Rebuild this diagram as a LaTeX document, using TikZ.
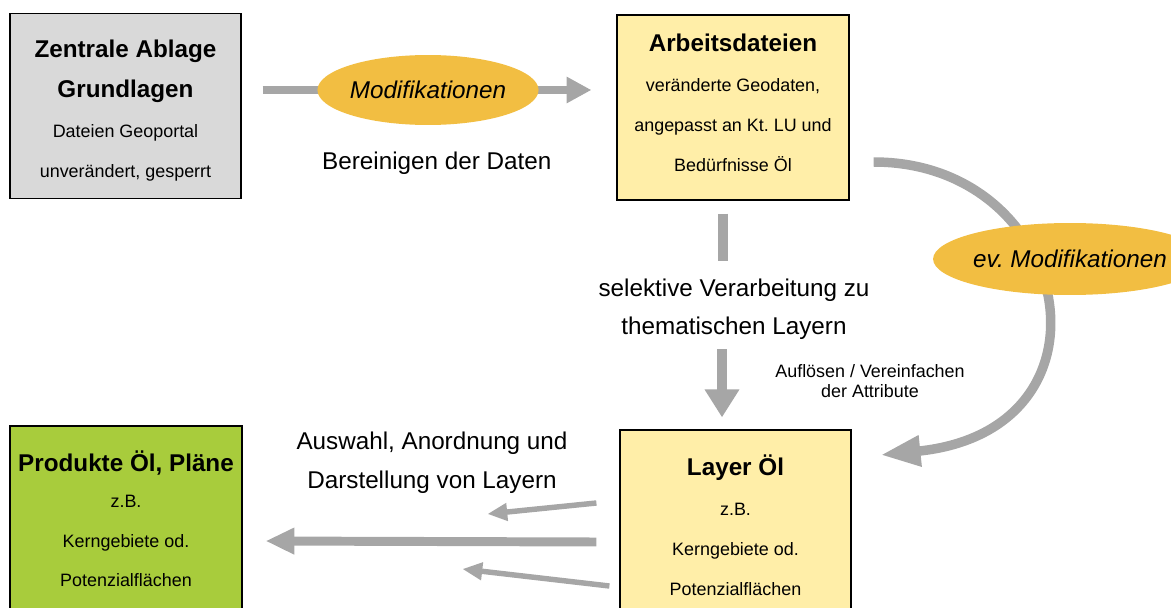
\documentclass[tikz,border=0pt]{standalone}
\usepackage{fontspec}
\setmainfont{Liberation Sans}
\usetikzlibrary{arrows.meta, shapes, positioning, calc}
\frenchspacing
\definecolor{grauBox}{RGB}{217,217,217}
\definecolor{gelbBox}{RGB}{255,238,168}
\definecolor{gruenBox}{RGB}{168,204,60}
\definecolor{ovalGelb}{RGB}{242,190,66}
\definecolor{pfeilGrau}{RGB}{166,166,166}
\tikzset{rect/.style = {
  rectangle,
  draw=black, line width=0.7pt,
  text centered, align=center,
  inner sep=0pt,
  font=\fontsize{10.2}{22.7}\selectfont
  }}
\tikzset{grundlage/.style = {
  % Rectangle:
  rect,
  fill=grauBox
  }}
\tikzset{arbeit/.style = {
  % Rectangle:
  rect,
  fill=gelbBox
  }}
\tikzset{produkt/.style = {
  % Rectangle:
  rect,
  fill=gruenBox
  }}
\tikzset{oval/.style = {
  ellipse,
  fill=ovalGelb,
  inner sep=0pt,
  minimum width=4cm, minimum height=1.4cm,
  font=\fontsize{13.8}{16}\selectfont\itshape
  }}
\tikzset{label/.style = {
  align=center,
  font=\fontsize{13.8}{21.5}\selectfont
  }}
\tikzset{arrow/.style = {
  -{Triangle[length=14.2pt, width=14.2pt]},
  draw=pfeilGrau,
  line width=4.5pt
  }}
\tikzset{thinarrow/.style = {
  -{Triangle[length=11.3pt, width=9.6pt]},
  draw=pfeilGrau,
  line width=3.1pt
  }}
\newcommand{\titel}[1]{{\fontsize{13.8}{22.7}\selectfont\bfseries #1}}
\newcommand{\tief}[1]{\rule[-#1]{0pt}{0pt}}

\begin{document}
\begin{tikzpicture}[x=0.02cm, y=-0.02cm]
% LAYERS
\pgfdeclarelayer{bg}
\pgfsetlayers{bg,main}
\useasboundingbox (0,0) rectangle (1171,608);
\clip (0,0) rectangle (1171,608);

% NODES
\node (zentrale) [grundlage, minimum width=4.62cm, minimum height=3.7cm] at (125.5,106)
  {\rule{0pt}{15pt}\titel{Zentrale Ablage}\\\titel{Grundlagen}\\Dateien Geoportal\\unverändert, gesperrt};
\node (dateien) [arbeit, minimum width=4.64cm, minimum height=3.7cm] at (733,107.5)
  {\titel{Arbeitsdateien}\\veränderte Geodaten,\\angepasst an Kt. LU und\\Bedürfnisse Öl\tief{5.6pt}};
\node (layer) [arbeit, minimum width=4.62cm, minimum height=3.92cm] at (735.5,528)
  {\titel{Layer Öl}\\z.B.\\Kerngebiete od.\\Potenzialflächen\tief{3.4pt}};
\node (produkte) [produkt, minimum width=4.64cm, minimum height=3.84cm] at (126,522)
  {\titel{Produkte Öl, Pläne}\\[-2.5pt]z.B.\\Kerngebiete od.\\Potenzialflächen\tief{3.4pt}};

\node (modif) [oval] at (428,90) {Modifikationen};
\node (bereinigen) [label, below=0.41cm of modif, xshift=5] {Bereinigen der Daten};
\node (evmodif) [oval, minimum width=4.08cm, minimum height=1.44cm] at (1070,259) {ev. Modifikationen};

\node (selektiv) [label] at (734,309) {selektive Verarbeitung zu\\thematischen Layern};
\node (aufloesen) [align=center, font=\fontsize{10.2}{11.3}\selectfont] at (870,381)
  {Auflösen / Vereinfachen\\der Attribute};
\node (auswahl) [label, font=\fontsize{13.8}{22.1}\selectfont] at (432,462.5)
  {Auswahl, Anordnung und\\Darstellung von Layern};

% arrows
\begin{pgfonlayer}{bg}
\draw [arrow, shorten <=11.9pt, shorten >=14.2pt] (zentrale.east |- modif) -- (dateien.west |- modif);
\end{pgfonlayer}

\draw [draw=pfeilGrau, line width=5.7pt] ([shift={(-10,13)}]dateien.south) -- ([shift={(-10,60)}]dateien.south);
\draw [arrow, line width=5.7pt, -{Triangle[length=15.9pt, width=18.7pt]}]
  ([shift={(-13.5,-80)}]layer.north) -- ([shift={(-13.5,-12)}]layer.north);

\begin{pgfonlayer}{bg}
\draw [arrow, line width=5.4pt, -{Triangle[length=22.7pt, width=16.5pt]}]
  ([shift={(24,54.5)}]dateien.east) .. controls +(200,0) and +(245,-25) .. ([shift={(29,-73)}]layer.east);
\end{pgfonlayer}

\draw [thinarrow] ([shift={(-23,-25)}]layer.west) -- ([shift={(-132,-14)}]layer.west);
\draw [arrow, line width=5.1pt, -{Triangle[length=16.4pt, width=14.2pt]}]
  ([shift={(-23,14)}]layer.west) -- ([shift={(23,19)}]produkte.east);
\draw [thinarrow] ([shift={(-10,58)}]layer.west) -- ([shift={(-157,41)}]layer.west);
\end{tikzpicture}
\end{document}
